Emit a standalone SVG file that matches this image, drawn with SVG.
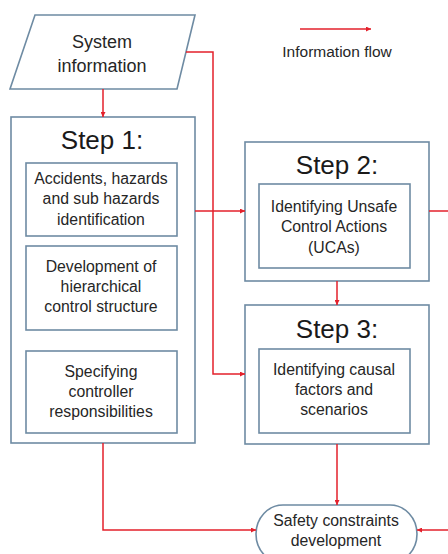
<svg xmlns="http://www.w3.org/2000/svg" width="448" height="554" viewBox="0 0 448 554">
<defs>
<marker id="ah" viewBox="0 0 10 10" refX="10" refY="5" markerWidth="5" markerHeight="5" orient="auto" markerUnits="userSpaceOnUse"><path d="M0,0 L10,5 L0,10 z" fill="#e3202b"/></marker>
<style>
.box{fill:#fff;stroke:#6e8ba3;stroke-width:1.6}
.t{font-family:"Liberation Sans",Arial,sans-serif;font-size:15.8px;fill:#262626;text-anchor:middle}
.h{font-family:"Liberation Sans",Arial,sans-serif;font-size:26px;fill:#1a1a1a;text-anchor:middle}
.c{fill:none;stroke:#e3202b;stroke-width:1.5}
</style>
</defs>
<rect width="448" height="554" fill="#fff"/>
<g id="legend">
<line class="c" x1="300" y1="29" x2="371" y2="29" marker-end="url(#ah)"/>
<text class="t" x="337" y="57" style="font-size:15.5px">Information flow</text>
</g>
<g id="system-info">
<polygon class="box" points="35,15 195,15 177,89 10,89"/>
<text class="t" x="102" y="48" style="font-size:18px">System</text>
<text class="t" x="102" y="72" style="font-size:18px">information</text>
</g>
<g id="step1">
<rect class="box" x="11" y="117" width="184" height="326"/>
<text class="h" x="102" y="149">Step 1:</text>
<rect class="box" x="26" y="163" width="151" height="73"/>
<text class="t" x="101" y="184">Accidents, hazards</text>
<text class="t" x="101" y="204">and sub hazards</text>
<text class="t" x="101" y="225">identification</text>
<rect class="box" x="26" y="246" width="151" height="84"/>
<text class="t" x="101" y="272">Development of</text>
<text class="t" x="101" y="292">hierarchical</text>
<text class="t" x="101" y="312">control structure</text>
<rect class="box" x="26" y="351" width="151" height="82"/>
<text class="t" x="101" y="377">Specifying</text>
<text class="t" x="101" y="397">controller</text>
<text class="t" x="101" y="417">responsibilities</text>
</g>
<g id="step2">
<rect class="box" x="245" y="142" width="184" height="139"/>
<text class="h" x="337" y="174">Step 2:</text>
<rect class="box" x="259" y="184" width="151" height="84"/>
<text class="t" x="334" y="212">Identifying Unsafe</text>
<text class="t" x="334" y="232">Control Actions</text>
<text class="t" x="334" y="253">(UCAs)</text>
</g>
<g id="step3">
<rect class="box" x="245" y="305" width="184" height="139"/>
<text class="h" x="337" y="338">Step 3:</text>
<rect class="box" x="259" y="349" width="151" height="84"/>
<text class="t" x="334" y="375">Identifying causal</text>
<text class="t" x="334" y="395">factors and</text>
<text class="t" x="334" y="415">scenarios</text>
</g>
<g id="safety">
<rect class="box" x="256" y="505" width="161" height="58" rx="27" ry="29"/>
<text class="t" x="336" y="526">Safety constraints</text>
<text class="t" x="336" y="546">development</text>
</g>
<g id="connectors">
<line class="c" x1="103" y1="89" x2="103" y2="117" marker-end="url(#ah)"/>
<polyline class="c" points="186,52 213,52 213,374 245,374" marker-end="url(#ah)"/>
<line class="c" x1="195" y1="211" x2="245" y2="211" marker-end="url(#ah)"/>
<line class="c" x1="429" y1="211" x2="448" y2="211"/>
<line class="c" x1="337" y1="281" x2="337" y2="305" marker-end="url(#ah)"/>
<line class="c" x1="337" y1="444" x2="337" y2="505" marker-end="url(#ah)"/>
<polyline class="c" points="103,443 103,530 256,530" marker-end="url(#ah)"/>
<line class="c" x1="448" y1="530" x2="417" y2="530" marker-end="url(#ah)"/>
</g>
</svg>
